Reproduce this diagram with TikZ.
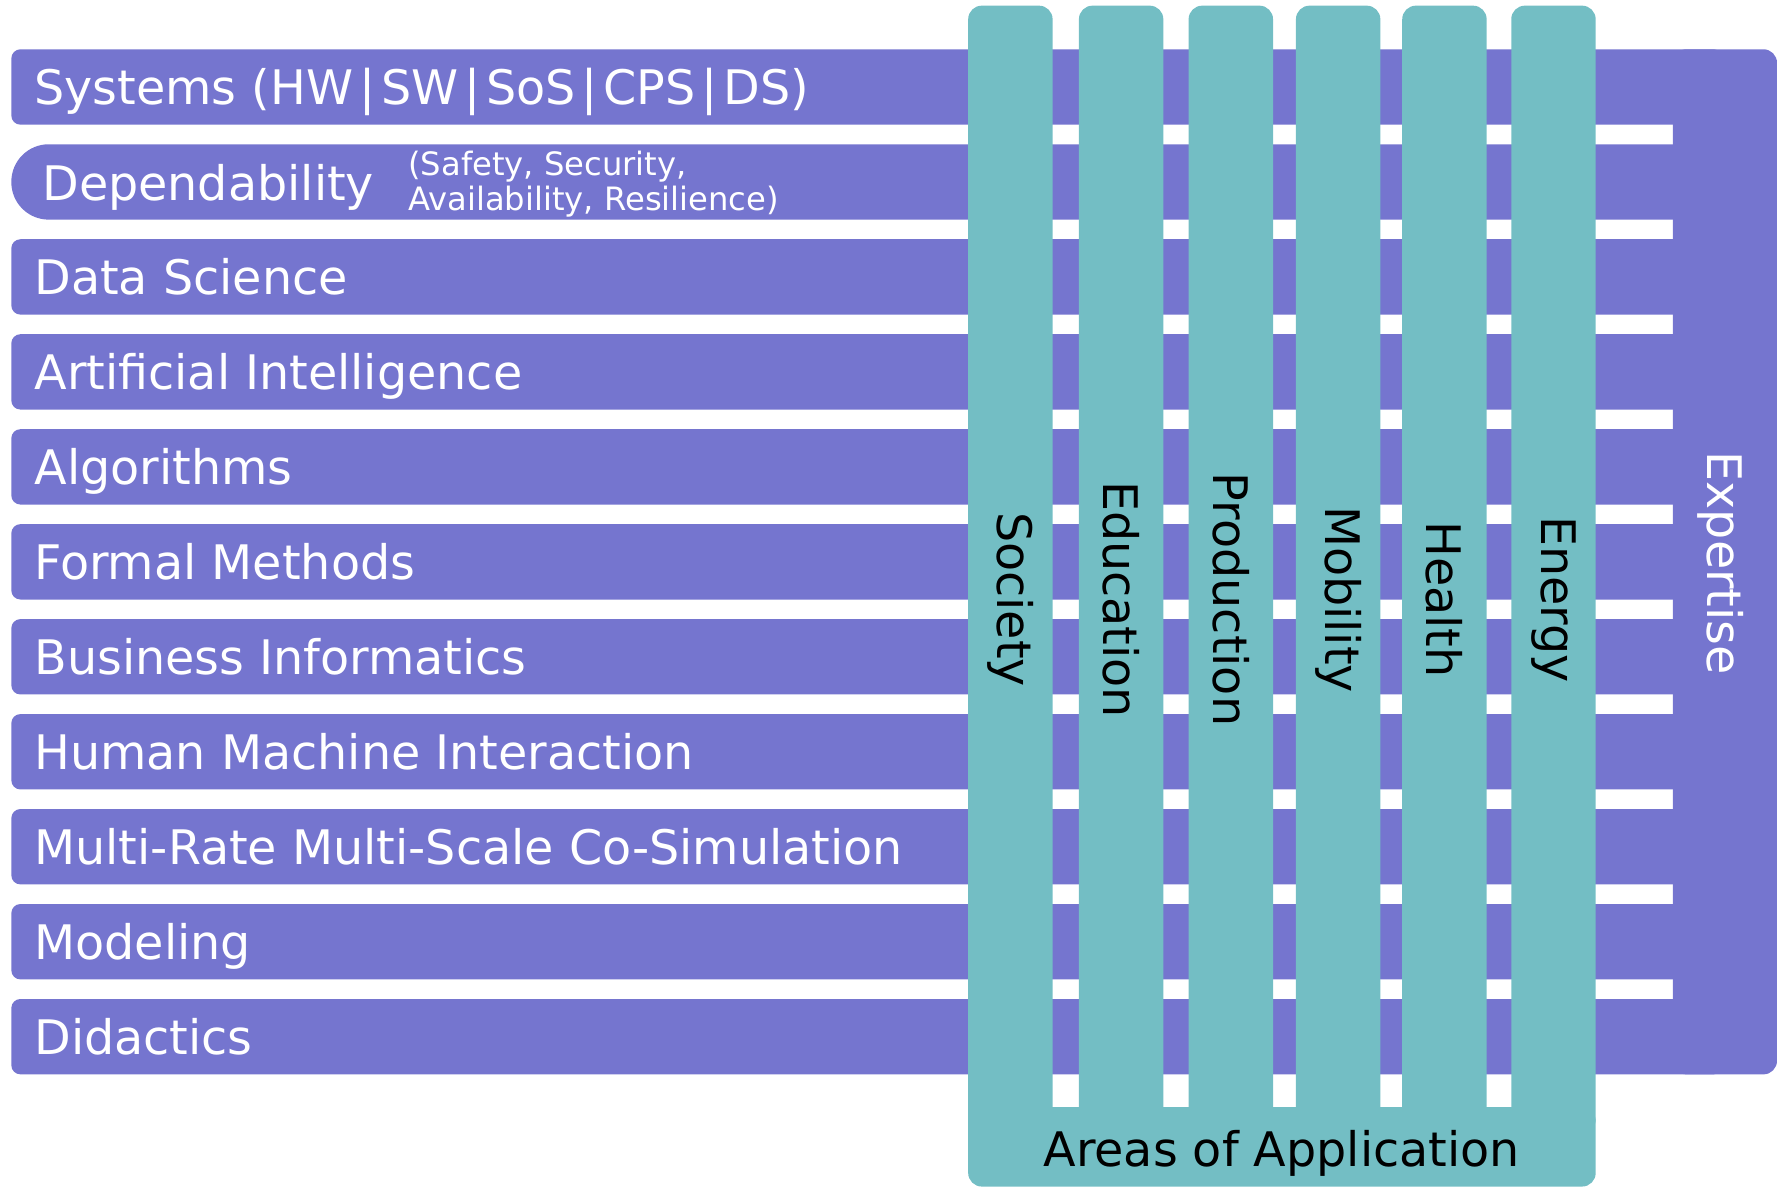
\documentclass[tikz,border=0pt]{standalone}
\usepackage{fontspec}
\setmainfont{DejaVu Sans}
\definecolor{expertise}{RGB}{117,117,207}
\definecolor{area}{RGB}{115,190,196}
\newcommand{\sysbar}{\kern2.6pt|\kern2.6pt}

\begin{document}
\begin{tikzpicture}[x=0.5pt,y=-0.5pt,
    bigfont/.style={font=\fontsize{21}{25}\selectfont},
    rowlabel/.style={bigfont,text=white,anchor=base west,inner sep=0pt},
    smalllabel/.style={font=\fontsize{14.2}{15.8}\selectfont,text=white,align=left,anchor=west,inner sep=0pt},
    arealabel/.style={bigfont,text=black,rotate=-90,inner sep=0pt}]
\useasboundingbox (0,0) rectangle (1568,1047);
\foreach \i in {0,2,3,...,10}
  \fill[expertise,rounded corners=4pt] (10,43.5+83.8*\i) rectangle (1520,110+83.8*\i);
\fill[expertise,rounded corners=16.5pt] (10,127.3) rectangle (1520,193.8);
\foreach \i/\lbl in {0/{Systems (HW\sysbar SW\sysbar SoS\sysbar CPS\sysbar DS)},2/Data Science,3/Artificial Intelligence,
    4/Algorithms,5/Formal Methods,6/Business Informatics,7/Human Machine Interaction,
    8/Multi-Rate Multi-Scale Co-Simulation,9/Modeling,10/Didactics}
  \node[rowlabel] (row\i) at (30,92.5+83.8*\i) {\lbl};
\node[rowlabel] (row1) at (37,177) {Dependability};
\node[smalllabel] (row1note) at (360,162.5) {(Safety, Security,\\Availability, Resilience)};
\fill[expertise,rounded corners=6pt] (1476,43.5) rectangle (1568,948);
\node[bigfont,text=white,rotate=-90,inner sep=0pt] (expertise) at (1518,497) {Expertise};
\foreach \x/\lbl in {854.3/Society,952/Education,1048.8/Production,1143.5/Mobility,1237.3/Health,1333.5/Energy}{
  \fill[area,rounded corners=6pt] (\x,5) rectangle (\x+74.5,1000);
  \node[arealabel] (\lbl) at (\x+37.25,529) {\lbl};
}
\fill[area,rounded corners=6pt] (854.3,977) rectangle (1408,1047);
\node[bigfont,inner sep=0pt] (areas) at (1131,1018) {Areas of Application};
\end{tikzpicture}
\end{document}
